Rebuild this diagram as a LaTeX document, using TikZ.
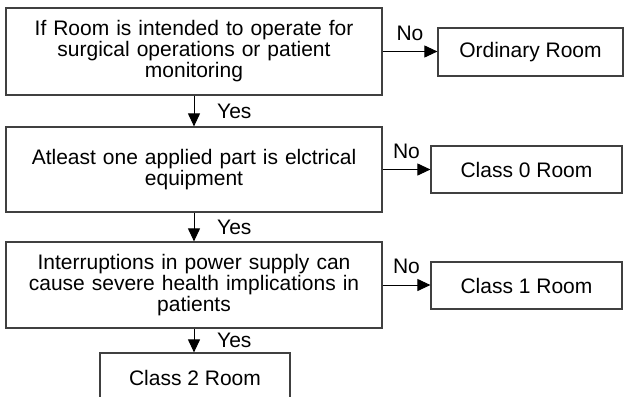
\documentclass[tikz,border=0pt]{standalone}
\usepackage{fontspec}
\setmainfont{Liberation Sans}
\usetikzlibrary{arrows.meta, positioning}

\begin{document}
\begin{tikzpicture}[x=0.5pt, y=-0.5pt,
    font=\fontsize{10.5}{10.5}\selectfont,
    frage/.style={draw=black!75, line width=0.6pt, minimum width=188pt, text width=184pt, align=center, inner sep=0pt},
    raum/.style={draw=black!75, line width=0.6pt, inner sep=0pt, minimum width=95.5pt, minimum height=23.5pt},
    pfeil/.style={-{Triangle[length=6.5pt,width=6pt]}, line width=0.5pt}]
    \useasboundingbox (0,0) rectangle (625,396);
    \clip (0,0) rectangle (625,396);
    % Fragen links
    \node[frage, minimum height=43.5pt] (cond1) at (194,51.5) {If Room is intended to operate for\\surgical operations or patient\\monitoring};
    \node[frage, minimum height=42.5pt] (cond2) at (194,169.5) {Atleast one applied part is elctrical\\equipment};
    \node[frage, minimum height=43pt] (cond3) at (194,285) {Interruptions in power supply can\\cause severe health implications in\\patients};
    % Raumklassen
    \node[raum, minimum width=92.5pt, minimum height=24pt] (ordinary) at (530.5,52) {Ordinary Room};
    \node[raum] (class0) at (526.5,169.5) {Class 0 Room};
    \node[raum] (class1) at (526.5,285.5) {Class 1 Room};
    \node[raum, minimum width=95pt, minimum height=25pt] (class2) at (195,378) {Class 2 Room};
    % Pfeile
    \foreach \a/\b in {cond1/ordinary, cond2/class0, cond3/class1}
      \draw[pfeil] (\a.east) -- (\a.east -| \b.west) node[midway, above=2pt] {No};
    \foreach \a/\b in {cond1/cond2, cond2/cond3, cond3/class2}
      \draw[pfeil] (\a.south) -- (\a.south |- \b.north) node[midway, right=8pt] {Yes};
\end{tikzpicture}
\end{document}
